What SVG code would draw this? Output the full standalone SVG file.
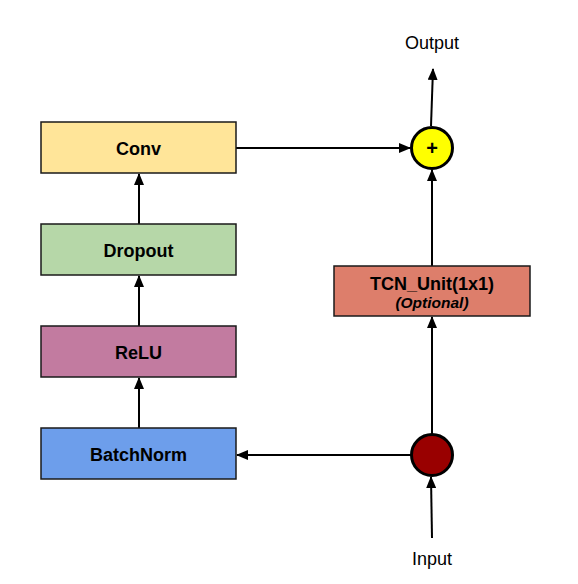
<svg xmlns="http://www.w3.org/2000/svg" width="578" height="584" viewBox="0 0 578 584">
<style>
.box{stroke:#1a1a1a;stroke-width:1.5}
.lbl{font-family:"Liberation Sans",Arial,sans-serif;font-weight:bold;font-size:18px;fill:#000;text-anchor:middle}
.io{font-family:"Liberation Sans",Arial,sans-serif;font-size:18px;fill:#000;text-anchor:middle}
.edge{stroke:#000;stroke-width:2;fill:none;marker-end:url(#ah)}
.circ{stroke:#000;stroke-width:3}
</style>
<defs>
<marker id="ah" markerWidth="12" markerHeight="10" refX="11" refY="5" orient="auto" markerUnits="userSpaceOnUse">
<path d="M0,0 L12,5 L0,10 Z" fill="#000"/>
</marker>
</defs>
<rect width="578" height="584" fill="#fff"/>
<g id="connectors">
<path class="edge" d="M236,148 L410,148"/>
<path class="edge" d="M139,224 L139,174"/>
<path class="edge" d="M139,326 L139,276"/>
<path class="edge" d="M139,428 L139,378"/>
<path class="edge" d="M411,455 L237,455"/>
<path class="edge" d="M432,434 L432,317"/>
<path class="edge" d="M432,266 L432,170"/>
<path class="edge" d="M431,126 L433,69"/>
<path class="edge" d="M432,538 L431,477"/>
</g>
<g id="conv"><rect class="box" x="41" y="122" width="195" height="51" fill="#ffe599"/><text class="lbl" x="138.5" y="155">Conv</text></g>
<g id="dropout"><rect class="box" x="41" y="224" width="195" height="51" fill="#b6d7a8"/><text class="lbl" x="138.5" y="257">Dropout</text></g>
<g id="relu"><rect class="box" x="41" y="326" width="195" height="51" fill="#c27ba0"/><text class="lbl" x="138.5" y="359">ReLU</text></g>
<g id="batchnorm"><rect class="box" x="41" y="428" width="195" height="51" fill="#6d9eeb"/><text class="lbl" x="138.5" y="461">BatchNorm</text></g>
<g id="tcn"><rect class="box" x="334" y="266" width="196" height="50" fill="#dd7e6b"/><text class="lbl" x="432" y="290">TCN_Unit(1x1)</text><text class="lbl" x="432" y="308" style="font-size:15.5px;font-style:italic">(Optional)</text></g>
<g id="plus"><circle class="circ" cx="432" cy="148" r="20.5" fill="#ffff00"/><text class="lbl" x="432" y="155" style="font-size:20px">+</text></g>
<g id="split"><circle class="circ" cx="432" cy="455" r="20.5" fill="#990000"/></g>
<g id="output"><text class="io" x="432" y="49">Output</text></g>
<g id="input"><text class="io" x="432" y="565">Input</text></g>
</svg>
